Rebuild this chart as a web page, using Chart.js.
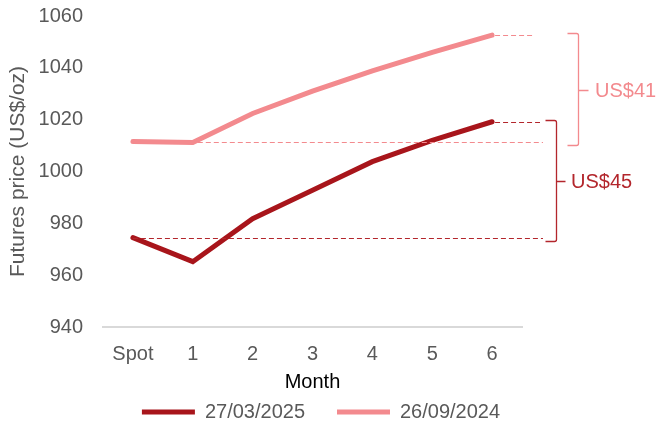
<!DOCTYPE html>
<html>
<head>
<meta charset="utf-8">
<script src="https://cdn.jsdelivr.net/npm/chart.js@4"></script>
<style>
  html, body { margin: 0; padding: 0; background: #fff; }
  #wrap { width: 657px; height: 423px; }
</style>
</head>
<body>
<div id="wrap"><canvas id="myChart"></canvas></div>
<script>
// data
const months = ['Spot', '1', '2', '3', '4', '5', '6'];
const mar2025 = [974.5, 965.2, 981.8, 992.8, 1003.8, 1012.0, 1019.2];
const sep2024 = [1011.6, 1011.2, 1022.4, 1031.0, 1038.8, 1046.0, 1052.6];
const seriesNames = ['27/03/2025', '26/09/2024'];
const spreadLabels = ['US$45', 'US$41'];
const spreadFrom = [0, 1];   // index where each dashed base line starts

const dark = '#A8151B';
const light = '#F38A8E';
const grey = '#595959';
const font = "'Liberation Sans', Arial, sans-serif";

// dashed guides + brackets showing the spread of each curve
const spreadPlugin = {
    id: 'spread',
    afterDatasetsDraw(chart) {
        const ctx = chart.ctx;
        const x = chart.scales.x, y = chart.scales.y;
        const right = chart.chartArea.right;
        const specs = [
            { ds: 0, color: '#B3262C', endTop: right + 18, endBot: right + 21, bx: right + 34, tick: 9, tx: right + 49 },
            { ds: 1, color: light, endTop: right + 11, endBot: right + 21, bx: right + 56, tick: 10, tx: right + 73 }
        ];
        specs.forEach((s, i) => {
            const vals = chart.data.datasets[s.ds].data;
            const last = vals.length - 1;
            const yTop = Math.round(y.getPixelForValue(vals[last])) + 0.5;
            const yBot = Math.round(y.getPixelForValue(vals[spreadFrom[i]])) + 0.5;
            ctx.save();
            ctx.strokeStyle = s.color;
            ctx.lineWidth = 1;
            ctx.setLineDash([5, 3]);
            ctx.beginPath();
            ctx.moveTo(x.getPixelForValue(spreadFrom[i]) + (i ? 5 : 0), yBot);
            ctx.lineTo(s.endBot, yBot);
            ctx.moveTo(x.getPixelForValue(last) + 3, yTop);
            ctx.lineTo(s.endTop, yTop);
            ctx.stroke();
            ctx.setLineDash([]);
            // bracket
            const t = yTop - 2, b = yBot + 3, m = Math.round((t + b) / 2) + 0.5;
            const bx = Math.round(s.bx) + 0.5;
            ctx.lineWidth = 1.3;
            ctx.beginPath();
            ctx.moveTo(bx - 11, t);
            ctx.lineTo(bx - 2, t);
            ctx.quadraticCurveTo(bx, t, bx, t + 2);
            ctx.lineTo(bx, b - 2);
            ctx.quadraticCurveTo(bx, b, bx - 2, b);
            ctx.lineTo(bx - 11, b);
            ctx.moveTo(bx, m);
            ctx.lineTo(bx + s.tick, m);
            ctx.stroke();
            ctx.fillStyle = s.color;
            ctx.font = '20px ' + font;
            ctx.textBaseline = 'middle';
            ctx.fillText(spreadLabels[i], s.tx, m + 1);
            ctx.restore();
        });
    }
};

const ctx = document.getElementById('myChart');
const chart = new Chart(ctx, {
    type: 'line',
    data: {
        labels: months,
        datasets: [
            {
                label: seriesNames[0],
                data: mar2025,
                borderColor: dark,
                backgroundColor: dark,
                borderWidth: 5,
                borderCapStyle: 'round',
                pointRadius: 0,
                tension: 0
            },
            {
                label: seriesNames[1],
                data: sep2024,
                borderColor: light,
                backgroundColor: light,
                borderWidth: 5,
                borderCapStyle: 'round',
                pointRadius: 0,
                tension: 0
            }
        ]
    },
    options: {
        responsive: true,
        maintainAspectRatio: false,
        animation: false,
        layout: { padding: { left: 0, right: 15, top: 16, bottom: -9 } },
        scales: {
            x: {
                offset: true,
                grid: { display: false, drawTicks: false },
                border: { display: true, color: '#d9d9d9', width: 2 },
                ticks: { color: grey, padding: 15, font: { family: font, size: 20 } },
                title: {
                    display: true, text: 'Month', color: '#000',
                    font: { family: font, size: 20 }, padding: { top: 0, bottom: -24 }
                },
                afterFit(scale) { scale.height = 43; }
            },
            y: {
                min: 940,
                max: 1060,
                grid: { display: false, drawTicks: false },
                border: { display: false },
                ticks: {
                    stepSize: 20, color: grey, padding: 20,
                    font: { family: font, size: 20 },
                    callback: (v) => String(v)
                },
                title: {
                    display: true, text: 'Futures price (US$/oz)', color: grey,
                    font: { family: font, size: 21 }, padding: { top: 6, bottom: 0 }
                },
                afterFit(scale) {
                    scale.width = 103;
                    scale.paddingTop = 0;
                    scale.paddingBottom = 0;
                }
            },
            // empty right-hand axis, only reserves room for the brackets
            y2: {
                type: 'linear',
                position: 'right',
                grid: { display: false, drawTicks: false },
                border: { display: false },
                ticks: { display: false },
                afterFit(scale) {
                    scale.width = 120;
                    scale.paddingTop = 0;
                    scale.paddingBottom = 0;
                }
            }
        },
        plugins: {
            legend: {
                position: 'bottom',
                labels: {
                    color: grey,
                    boxWidth: 53,
                    boxHeight: 5,
                    padding: 32,
                    font: { family: font, size: 20 },
                    generateLabels(c) {
                        return Chart.defaults.plugins.legend.labels.generateLabels(c)
                            .map((l) => Object.assign(l, { lineWidth: 0 }));
                    }
                }
            },
            tooltip: { enabled: false }
        }
    },
    plugins: [spreadPlugin]
});
</script>
</body>
</html>
